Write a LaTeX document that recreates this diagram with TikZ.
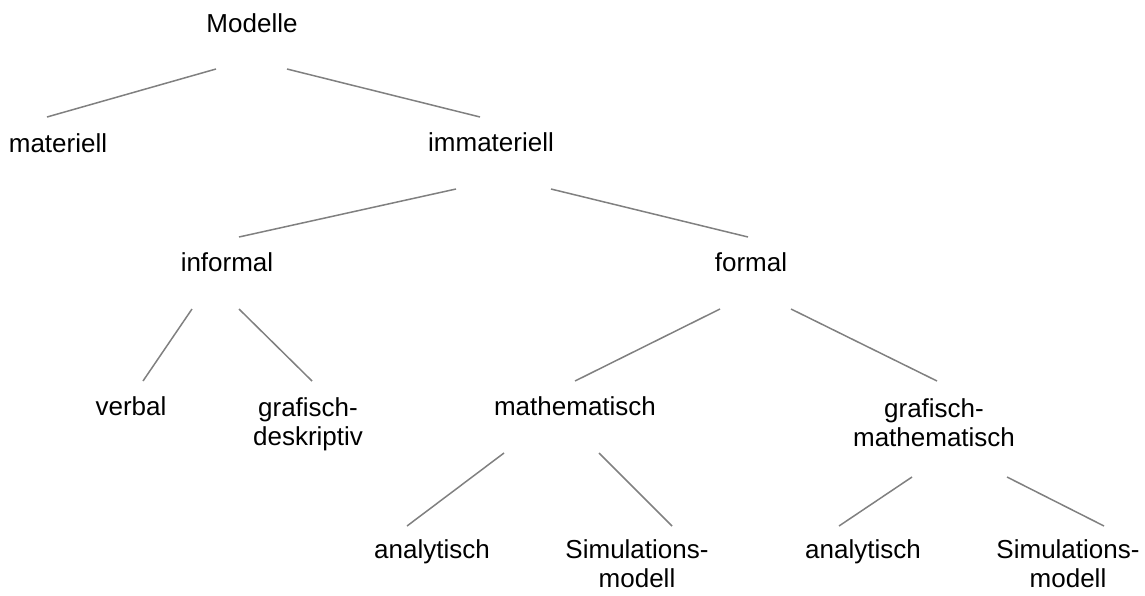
\documentclass[tikz,border=0pt]{standalone}
\usepackage{fontspec}
\setmainfont{Liberation Sans}
\begin{document}
\begin{tikzpicture}[x=1pt,y=-1pt,
  lbl/.style={inner sep=0pt,anchor=base,align=center,font=\fontsize{26}{29}\selectfont},
  edge/.style={draw={rgb,255:red,128;green,128;blue,128},line width=1.5pt}]
\useasboundingbox (0,0) rectangle (1145,595);

% labels of the classification tree (two-line labels sit on their last line)
\node[lbl] (modelle)  at (252,32)  {Modelle};
\node[lbl] (materiell) at (58,152) {materiell};
\node[lbl] (immat)    at (491,151) {immateriell};
\node[lbl] (informal) at (227,271) {informal};
\node[lbl] (formal)   at (751,271) {formal};
\node[lbl] (verbal)   at (131,415) {verbal};
\node[lbl] (grdesk)   at (308,445) {grafisch-\\deskriptiv};
\node[lbl] (mathe)    at (575,415) {mathematisch};
\node[lbl] (grmath)   at (934,446) {grafisch-\\mathematisch};
\node[lbl] (anaL)     at (432,558) {analytisch};
\node[lbl] (simL)     at (637,587) {Simulations-\\modell};
\node[lbl] (anaR)     at (863,558) {analytisch};
\node[lbl] (simR)     at (1068,587) {Simulations-\\modell};

% end points of the branches
\coordinate (modelle-l) at (216,69);  \coordinate (materiell-t) at (47,117);
\coordinate (modelle-r) at (287,69);  \coordinate (immat-t) at (480,117);
\coordinate (immat-l) at (456,189);   \coordinate (informal-t) at (239,237);
\coordinate (immat-r) at (551,189);   \coordinate (formal-t) at (748,237);
\coordinate (informal-l) at (192,309); \coordinate (verbal-t) at (143,381);
\coordinate (informal-r) at (239,309); \coordinate (grdesk-t) at (312,381);
\coordinate (formal-l) at (720,309);  \coordinate (mathe-t) at (575,381);
\coordinate (formal-r) at (791,309);  \coordinate (grmath-t) at (937,381);
\coordinate (mathe-l) at (504,453);   \coordinate (anaL-t) at (407,526);
\coordinate (mathe-r) at (599,453);   \coordinate (simL-t) at (672,526);
\coordinate (grmath-l) at (912,477);  \coordinate (anaR-t) at (839,526);
\coordinate (grmath-r) at (1007,477); \coordinate (simR-t) at (1104,526);

\draw[edge] (modelle-l) -- (materiell-t);
\draw[edge] (modelle-r) -- (immat-t);
\draw[edge] (immat-l) -- (informal-t);
\draw[edge] (immat-r) -- (formal-t);
\draw[edge] (informal-l) -- (verbal-t);
\draw[edge] (informal-r) -- (grdesk-t);
\draw[edge] (formal-l) -- (mathe-t);
\draw[edge] (formal-r) -- (grmath-t);
\draw[edge] (mathe-l) -- (anaL-t);
\draw[edge] (mathe-r) -- (simL-t);
\draw[edge] (grmath-l) -- (anaR-t);
\draw[edge] (grmath-r) -- (simR-t);
\end{tikzpicture}
\end{document}
